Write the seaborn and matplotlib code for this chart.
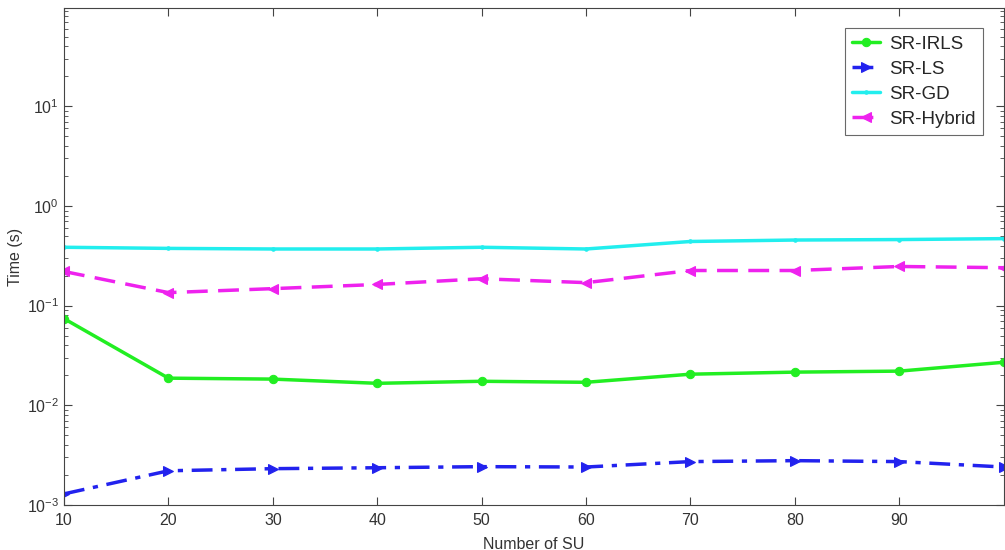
import matplotlib

matplotlib.use("Agg")
import matplotlib.pyplot as plt
import pandas as pd
import seaborn as sns
from matplotlib.ticker import LogLocator, NullFormatter

# Numero de SU (eje x)
num_su = [10, 20, 30, 40, 50, 60, 70, 80, 90, 100]

# Tiempos (segundos)
t_irls = [0.074, 0.0187, 0.0183, 0.0166, 0.0174, 0.0170, 0.0205, 0.0215, 0.0220, 0.027]
t_ls = [0.00129, 0.00220, 0.00231, 0.00236, 0.00242, 0.00240, 0.00272, 0.00278, 0.00272, 0.00240]
t_gd = [0.385, 0.375, 0.370, 0.370, 0.385, 0.370, 0.440, 0.455, 0.460, 0.470]
t_hybrid = [0.220, 0.135, 0.148, 0.163, 0.186, 0.170, 0.225, 0.225, 0.247, 0.240]

metodos = ["SR-IRLS", "SR-LS", "SR-GD", "SR-Hybrid"]
series = [t_irls, t_ls, t_gd, t_hybrid]

x_ticks = [10, 20, 30, 40, 50, 60, 70, 80, 90]

# estilos tipo MATLAB
colores = {"SR-IRLS": "#22ee22", "SR-LS": "#2222ee", "SR-GD": "#22eeee", "SR-Hybrid": "#ee22ee"}
marcadores = {"SR-IRLS": "o", "SR-LS": ">", "SR-GD": ".", "SR-Hybrid": "<"}
tamanos = {"SR-IRLS": 6, "SR-LS": 6.5, "SR-GD": 5, "SR-Hybrid": 6.5}
lineas = {"SR-IRLS": "-", "SR-LS": (0, (6, 2.5, 1.5, 2.5)), "SR-GD": "-", "SR-Hybrid": (0, (6, 3))}

sns.set_style("ticks")
plt.rcParams["font.family"] = ["Liberation Sans", "DejaVu Sans"]

fig = plt.figure(figsize=(10.05, 5.5), dpi=100)
ax = fig.add_axes([0.0637, 0.082, 0.935, 0.9035])

for nombre, valores in zip(metodos, series):
    df = pd.DataFrame({"su": num_su, "t": valores})
    sns.lineplot(
        data=df,
        x="su",
        y="t",
        ax=ax,
        label=nombre,
        color=colores[nombre],
        marker=marcadores[nombre],
        markersize=tamanos[nombre],
        markeredgecolor=colores[nombre],
        linewidth=2.5,
        linestyle=lineas[nombre],
    )

ax.set_yscale("log")
ax.set_ylim(1e-3, 97)
ax.set_xlim(10, 100)
ax.set_xticks(x_ticks)
ax.yaxis.set_major_locator(LogLocator(base=10, numticks=10))
ax.yaxis.set_minor_locator(LogLocator(base=10, subs=range(2, 10), numticks=20))
ax.yaxis.set_minor_formatter(NullFormatter())

ax.set_xlabel("Number of SU", fontsize=11.5, color="#333333", labelpad=6)
ax.set_ylabel("Time (s)", fontsize=11.5, color="#333333", labelpad=3)

ax.tick_params(which="both", direction="in", top=True, right=True, colors="#444444",
               labelcolor="#333333", labelsize=11.5)
ax.tick_params(axis="x", pad=6)
ax.tick_params(which="major", length=6)
ax.tick_params(which="minor", length=3)
for sp in ax.spines.values():
    sp.set_color("#444444")
    sp.set_linewidth(0.8)

leg = ax.legend(loc="upper right", bbox_to_anchor=(0.9777, 0.9598), borderaxespad=0,
                fontsize=13.5, frameon=True, fancybox=False, handlelength=1.5,
                handletextpad=0.45, borderpad=0.4, labelspacing=0.42)
leg.get_frame().set_edgecolor("#444444")
leg.get_frame().set_linewidth(0.8)

fig.savefig("out.png", dpi=100)
plt.close(fig)
